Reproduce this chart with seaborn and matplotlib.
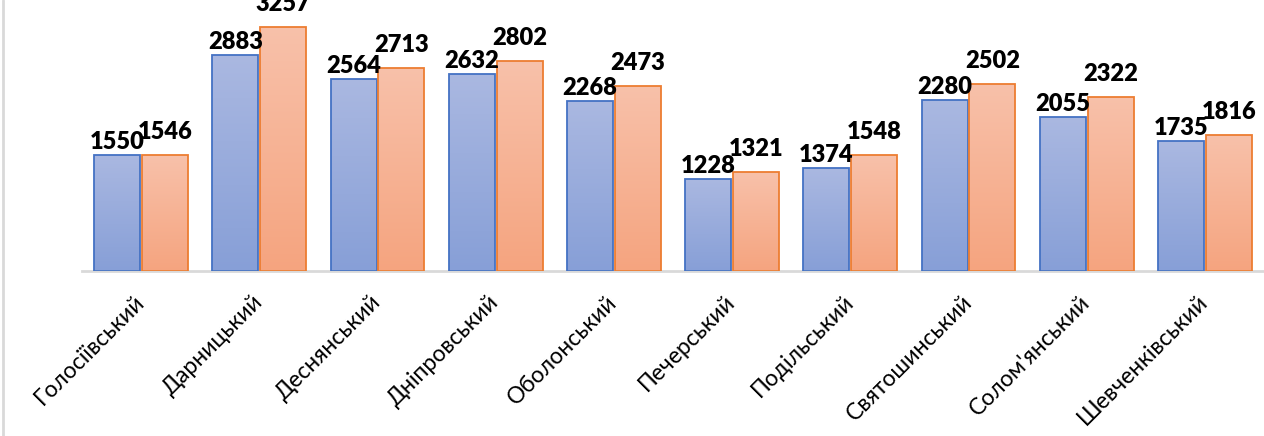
import numpy as np
import pandas as pd
import matplotlib
matplotlib.use("Agg")
import matplotlib.pyplot as plt
import seaborn as sns
from matplotlib.colors import LinearSegmentedColormap

districts = ["Голосіївський", "Дарницький", "Деснянський", "Дніпровський", "Оболонський",
             "Печерський", "Подільський", "Святошинський", "Солом'янський", "Шевченківський"]
series_names = ["A", "B"]
values_a = [1550, 2883, 2564, 2632, 2268, 1228, 1374, 2280, 2055, 1735]
values_b = [1546, 3257, 2713, 2802, 2473, 1321, 1548, 2502, 2322, 1816]

sns.set_theme(style="white")
plt.rcParams['font.family'] = ['Lato', 'DejaVu Sans']

df = pd.DataFrame({
    "district": districts * 2,
    "series": [series_names[0]] * len(districts) + [series_names[1]] * len(districts),
    "value": values_a + values_b,
})

edge_cols = {"A": "#4472C4", "B": "#ED7D31"}
grad = {"A": ("#AAB8E1", "#879FD7"), "B": ("#F8C1AA", "#F5A47F")}
label_lift = {"A": 9.5, "B": 16.5}  # points above bar top

fig = plt.figure(figsize=(12.64, 4.36), dpi=100)
ax = fig.add_axes([82 / 1264, 165 / 436, 1182 / 1264, 271 / 436])

sns.barplot(data=df, x="district", y="value", hue="series", order=districts,
            hue_order=series_names, palette=edge_cols, width=0.81, gap=0.04, ax=ax,
            legend=False, errorbar=None, saturation=1)

for container, name in zip(ax.containers, series_names):
    c_top, c_bot = grad[name]
    cmap = LinearSegmentedColormap.from_list(name, [c_top, c_bot])
    for bar, val in zip(container.patches, container.datavalues):
        x0, y0 = bar.get_x(), bar.get_y()
        w, h = bar.get_width(), bar.get_height()
        bar.set_facecolor("none")
        bar.set_edgecolor(edge_cols[name])
        bar.set_linewidth(1.3)
        bar.set_zorder(3)
        img = ax.imshow(np.linspace(0, 1, 256).reshape(-1, 1), cmap=cmap,
                        extent=[x0, x0 + w, y0, y0 + h], origin="upper",
                        aspect="auto", zorder=2)
        img.set_clip_path(bar)
        ax.annotate(f"{int(val)}", (x0 + w / 2, y0 + h), xytext=(0, label_lift[name]),
                    textcoords="offset points", ha="center", va="center",
                    fontsize=17, fontweight="heavy", color="black",
                    annotation_clip=False, zorder=5)

ax.set_xlim(-0.5, len(districts) - 0.5)
ax.set_ylim(0, 3621)
ax.set_xlabel("")
ax.set_ylabel("")
ax.set_yticks([])
for s in ["top", "right", "left"]:
    ax.spines[s].set_visible(False)
ax.spines["bottom"].set_color("#D9D9D9")
ax.spines["bottom"].set_linewidth(2)
ax.tick_params(axis="x", length=0, pad=20)
ax.set_xticks(range(len(districts)))
ax.set_xticklabels(districts, rotation=45, ha="right", va="center",
                   rotation_mode="anchor", fontsize=16.5, color="black")

fig.add_artist(plt.Line2D([2.5 / 1264, 2.5 / 1264], [0, 1], color="#D9D9D9", lw=2,
                          transform=fig.transFigure))

fig.savefig("out.png", dpi=100)
